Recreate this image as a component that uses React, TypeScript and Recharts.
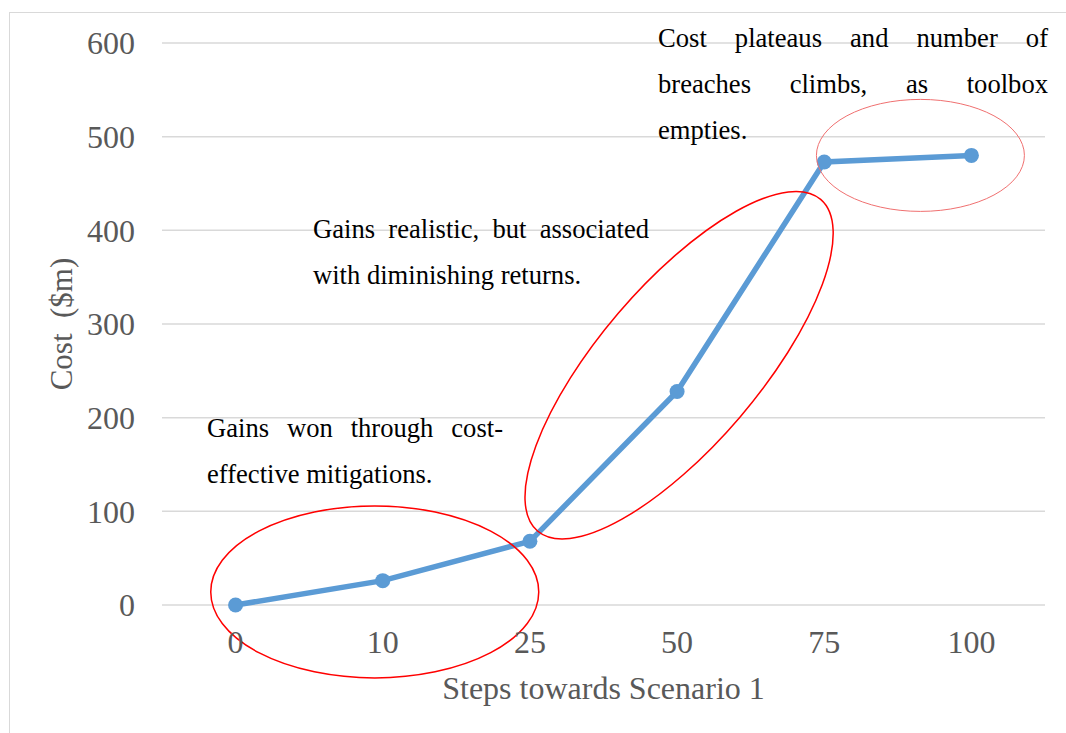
import React from "react";
import {
  ComposedChart,
  Line,
  XAxis,
  YAxis,
  CartesianGrid,
  ReferenceDot,
  Label,
} from "recharts";

// steps towards Scenario 1 (category axis)
const steps = ["0", "10", "25", "50", "75", "100"];
// cost in $m at each step
const cost = [0, 26, 68, 228, 473, 480];
const yTicks = [0, 100, 200, 300, 400, 500, 600];

const data = steps.map((s, i) => ({ step: s, cost: cost[i] }));

// red ellipses around groups of points: centre in data terms, radii/angle in px
const ellipses = [
  { x: "10", y: 14, dx: -8, rx: 164, ry: 86, angle: 0, stroke: "#ff0000", width: 1.5 },
  { x: "50", y: 256, dx: 2, rx: 218, ry: 80, angle: -49.5, stroke: "#ff0000", width: 1.5 },
  { x: "100", y: 480, dx: -51, rx: 104, ry: 56, angle: 0, stroke: "#f07070", width: 1 },
];

const notes = [
  { lines: ["Gains won through cost-", "effective mitigations."], left: 207, top: 405, width: 296 },
  { lines: ["Gains realistic, but associated", "with diminishing returns."], left: 313, top: 206, width: 336 },
  { lines: ["Cost plateaus and number of", "breaches climbs, as toolbox", "empties."], left: 658, top: 15, width: 390 },
];

const serif = "'Liberation Serif', 'Times New Roman', serif";
const axisText = { fill: "#595959", fontSize: 32, fontFamily: serif };

const Note = ({ lines, left, top, width }: { lines: string[]; left: number; top: number; width: number }) => (
  <div
    style={{
      position: "absolute",
      left,
      top,
      width,
      fontFamily: serif,
      fontSize: 26.6,
      lineHeight: "46px",
      color: "#000",
    }}
  >
    {lines.map((l, i) => (
      <div
        key={i}
        style={{
          textAlign: i < lines.length - 1 ? "justify" : "left",
          textAlignLast: i < lines.length - 1 ? "justify" : "left",
          whiteSpace: "nowrap",
        }}
      >
        {l}
      </div>
    ))}
  </div>
);

export default function App() {
  return (
    <div style={{ position: "absolute", left: 0, top: 0, width: 1066, height: 733, background: "#fff" }}>
      {/* chart frame */}
      <div
        style={{
          position: "absolute",
          left: 9,
          top: 12,
          right: 0,
          bottom: 0,
          borderLeft: "1.5px solid #d9d9d9",
          borderTop: "1.5px solid #d9d9d9",
        }}
      />
      <div style={{ position: "absolute", left: 0, top: 0 }}>
        <ComposedChart
          width={1066}
          height={733}
          data={data}
          margin={{ top: 43, right: 21, bottom: 0, left: 0 }}
        >
          <CartesianGrid vertical={false} stroke="#d9d9d9" strokeWidth={1.5} />
          <XAxis
            dataKey="step"
            type="category"
            scale="band"
            axisLine={false}
            tickLine={false}
            tick={axisText}
            tickMargin={19}
            height={128}
          >
            <Label
              value="Steps towards Scenario 1"
              position="insideBottom"
              offset={34}
              style={{ fill: "#595959", fontSize: 32, fontFamily: serif }}
            />
          </XAxis>
          <YAxis
            type="number"
            domain={[0, 600]}
            ticks={yTicks}
            axisLine={false}
            tickLine={false}
            tick={axisText}
            tickMargin={21}
            width={162}
          >
            <Label
              content={({ viewBox }: any) => {
                const cx = viewBox.x + 61;
                const cy = viewBox.y + viewBox.height / 2;
                return (
                  <text
                    x={cx}
                    y={cy}
                    transform={`rotate(-90, ${cx}, ${cy})`}
                    textAnchor="middle"
                    dominantBaseline="central"
                    fill="#595959"
                    fontSize={31}
                    fontFamily={serif}
                  >
                    {"Cost\u00a0\u00a0($m)"}
                  </text>
                );
              }}
            />
          </YAxis>
          <Line
            type="linear"
            dataKey="cost"
            stroke="#5b9bd5"
            strokeWidth={5.5}
            dot={{ r: 7.5, fill: "#5b9bd5", stroke: "none" }}
            isAnimationActive={false}
          />
          {ellipses.map((e, i) => (
            <ReferenceDot
              key={i}
              x={e.x}
              y={e.y}
              ifOverflow="visible"
              shape={(p: any) => (
                <ellipse
                  cx={p.cx + e.dx}
                  cy={p.cy}
                  rx={e.rx}
                  ry={e.ry}
                  fill="none"
                  stroke={e.stroke}
                  strokeWidth={e.width}
                  transform={`rotate(${e.angle}, ${p.cx + e.dx}, ${p.cy})`}
                />
              )}
            />
          ))}
        </ComposedChart>
      </div>
      {notes.map((n, i) => (
        <Note key={i} {...n} />
      ))}
    </div>
  );
}
